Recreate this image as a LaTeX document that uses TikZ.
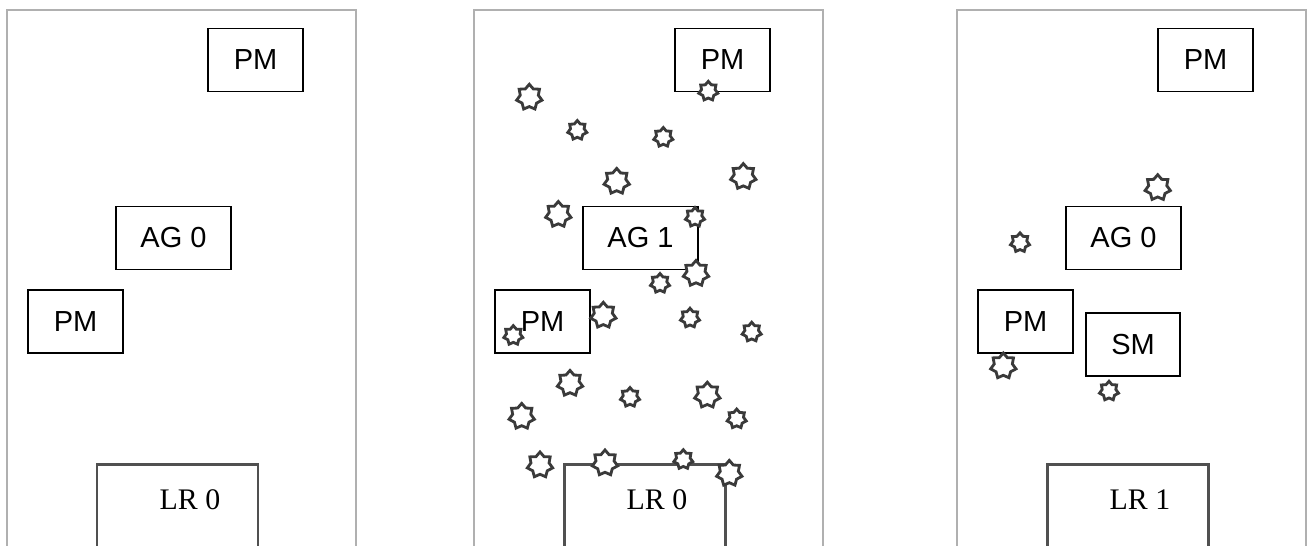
\documentclass[tikz,border=0pt]{standalone}
\usepackage{fontspec}
\setmainfont{Liberation Serif}
\setsansfont{Liberation Sans}
\usetikzlibrary{shapes.geometric}
\definecolor{framegray}{HTML}{B0B0B0}
\definecolor{lrgray}{HTML}{505050}
\definecolor{sparkgray}{HTML}{3A3A3A}

\tikzset{
  panel/.style={draw=framegray, line width=1.5pt},
  unitbox/.style={draw=black, line width=0.8pt, rectangle, inner sep=0pt,
    minimum height=1.26cm, font=\sffamily\fontsize{16.5}{19}\selectfont},
  lrbox/.style={draw=lrgray, line width=1.7pt},
  lrlabel/.style={font=\rmfamily\fontsize{17}{20}\selectfont, inner sep=0pt},
  spark/.style={star, star points=7, star point ratio=1.4, draw=sparkgray,
    fill=white, line width=1.6pt, inner sep=0pt},
  sparkbig/.style={spark, minimum size=0.52cm},
  sparksmall/.style={spark, minimum size=0.39cm}
}

\begin{document}
\begin{tikzpicture}[x=0.02cm, y=-0.02cm]
  \fill[white] (0,0) rectangle (1307,545);
  \useasboundingbox (0,0) rectangle (1307,545);
  \clip (0,0) rectangle (1307,545);

  % left panel
  \begin{scope}
    \draw[panel] (7,10) rectangle (356,600);
    \node[unitbox, minimum width=1.9cm] (pmA) at (255.5,60) {PM};
    \node[unitbox, minimum width=2.3cm] (agA) at (173.5,238) {AG 0};
    \node[unitbox, minimum width=1.9cm] (pmB) at (75.5,321.5) {PM};
    \draw[lrbox] (97,600) -- (97,464) -- (258,464) -- (258,600);
    \node[lrlabel] (lrA) at (190,500) {LR 0};
  \end{scope}

  % middle panel
  \begin{scope}[shift={(467,0)}]
    \draw[panel] (7,10) rectangle (356,600);
    \node[unitbox, minimum width=1.9cm] (pmC) at (255.5,60) {PM};
    \node[unitbox, minimum width=2.3cm] (agB) at (173.5,238) {AG 1};
    \node[unitbox, minimum width=1.9cm] (pmD) at (75.5,321.5) {PM};
    \draw[lrbox] (97,600) -- (97,464) -- (258,464) -- (258,600);
    \node[lrlabel] (lrB) at (190,500) {LR 0};
    \foreach \x/\y [count=\i] in {62.3/97.3, 149.7/181.4, 276.3/176.6,
        91.3/214.5, 229/273.5, 136.3/315.3, 103/383.4, 240.3/395.2,
        54.7/416.4, 73/465, 138/463, 262.3/473.4}
      \node[sparkbig] (big\i) at (\x,\y) {};
    \foreach \x/\y [count=\i] in {241.3/91.1, 110.3/130.3, 196.3/137.3,
        228/217.2, 193/283.3, 223/318, 284.7/332, 46.3/335.4,
        163/397.3, 269.7/418.8, 216.3/459.5}
      \node[sparksmall] (small\i) at (\x,\y) {};
  \end{scope}

  % right panel
  \begin{scope}[shift={(950,0)}]
    \draw[panel] (7,10) rectangle (356,600);
    \node[unitbox, minimum width=1.9cm] (pmE) at (255.5,60) {PM};
    \node[unitbox, minimum width=2.3cm] (agC) at (173.5,238) {AG 0};
    \node[unitbox, minimum width=1.9cm] (pmF) at (75.5,321.5) {PM};
    \node[unitbox, minimum width=1.88cm] (sm) at (183,344.5) {SM};
    \draw[lrbox] (97,600) -- (97,464) -- (258,464) -- (258,600);
    \node[lrlabel] (lrC) at (190,500) {LR 1};
    \node[sparkbig] (bigA) at (207.7,187.7) {};
    \node[sparksmall] (smallA) at (70,242.6) {};
    \node[sparkbig] (bigB) at (53.3,366) {};
    \node[sparksmall] (smallB) at (159,391) {};
  \end{scope}
\end{tikzpicture}
\end{document}
